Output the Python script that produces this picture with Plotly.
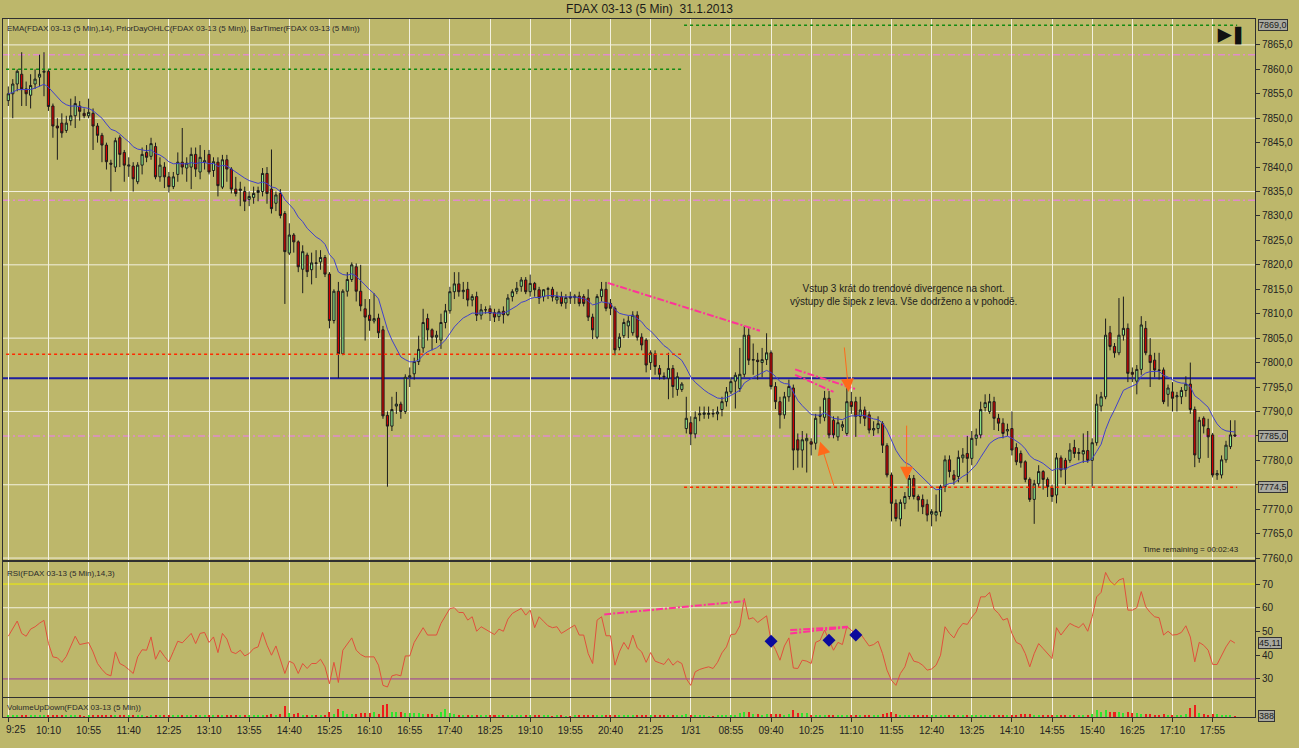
import plotly.graph_objects as go
from plotly.subplots import make_subplots

# FDAX 03-13, 5 min bars, 30.1. 9:25 .. 31.1. 18:20
opens = [
    7853.6, 7855.0, 7857.0, 7859.0, 7856.0, 7854.7, 7857.0, 7858.4, 7859.4, 7859.6,
    7852.5, 7848.4, 7849.0, 7847.5, 7849.5, 7850.5, 7852.5, 7851.0, 7850.5, 7851.0,
    7848.4, 7846.5, 7844.5, 7840.8, 7840.0, 7846.0, 7843.0, 7840.2, 7840.2, 7837.0,
    7840.4, 7843.0, 7842.2, 7844.2, 7838.0, 7840.0, 7838.0, 7836.0, 7838.5, 7841.0,
    7839.8, 7840.0, 7842.6, 7839.0, 7841.0, 7842.6, 7839.3, 7841.0, 7835.9, 7841.5,
    7839.6, 7835.5, 7835.2, 7835.0, 7833.4, 7833.8, 7834.8, 7835.0, 7838.7, 7835.5,
    7832.6, 7834.6, 7830.5, 7822.4, 7826.1, 7824.7, 7819.1, 7822.0, 7819.0, 7820.4,
    7820.6, 7821.5, 7818.1, 7808.6, 7814.6, 7801.8, 7814.6, 7817.0, 7819.6, 7814.6,
    7811.0, 7809.7, 7808.5, 7809.1, 7806.7, 7789.2, 7787.0, 7791.1, 7791.5, 7790.0,
    7797.0, 7797.7, 7800.2, 7803.0, 7809.0, 7806.7, 7805.2, 7804.6, 7808.2, 7810.6,
    7814.5, 7816.1, 7814.5, 7815.0, 7812.8, 7813.5, 7809.7, 7810.8, 7811.0, 7810.2,
    7809.4, 7810.5, 7809.8, 7813.5, 7814.6, 7815.6, 7816.9, 7814.5, 7816.2, 7814.9,
    7813.5, 7815.0, 7815.0, 7812.8, 7813.5, 7812.2, 7813.5, 7813.3, 7813.6, 7813.5,
    7813.2, 7809.3, 7805.2, 7813.5, 7815.0, 7812.1, 7811.1, 7803.1, 7805.5, 7807.5,
    7806.1, 7809.7, 7805.2, 7804.6, 7800.0, 7801.8, 7798.8, 7797.2, 7796.8, 7798.8, 7794.5, 7794.5,
    7786.5, 7787.7, 7785.4, 7789.3, 7789.4, 7789.4, 7789.6, 7789.5, 7790.4, 7792.0,
    7794.0, 7796.2, 7794.7, 7797.6, 7805.6, 7800.5, 7800.5, 7800.0, 7800.6, 7802.0,
    7795.1, 7792.0, 7789.3, 7793.0, 7794.8, 7784.2, 7782.1, 7784.0, 7783.8, 7783.5,
    7789.0, 7788.8, 7792.7, 7788.2, 7784.8, 7786.8, 7785.5, 7792.0, 7792.0, 7789.0,
    7790.3, 7789.3, 7786.2, 7786.5, 7787.5, 7783.0, 7777.0, 7771.2, 7768.0, 7771.2,
    7772.6, 7776.3, 7772.6, 7772.0, 7771.0, 7769.0, 7768.8, 7769.5, 7774.6, 7780.1,
    7777.0, 7776.7, 7780.5, 7781.4, 7780.4, 7784.5, 7785.2, 7790.8, 7790.0, 7792.0,
    7788.6, 7787.6, 7786.0, 7786.5, 7782.6, 7781.4, 7779.7, 7776.1, 7772.0, 7775.2,
    7777.7, 7776.1, 7774.3, 7772.9, 7780.5, 7780.0, 7780.0, 7782.6, 7781.4, 7781.3,
    7782.0, 7780.0, 7783.6, 7791.1, 7793.0, 7806.1, 7803.3, 7802.0, 7805.6, 7807.0,
    7798.0, 7796.2, 7798.6, 7807.0, 7801.5, 7800.5, 7798.5, 7798.5, 7793.5, 7794.0,
    7793.0, 7793.0, 7794.3, 7795.6, 7790.4, 7780.4, 7788.6, 7786.5, 7785.2, 7777.0,
    7777.0, 7780.1, 7782.8, 7785.2,
]
highs = [
    7856.5, 7858.0, 7860.0, 7863.5, 7857.5, 7859.0, 7860.0, 7863.0, 7863.5, 7860.0,
    7853.0, 7850.0, 7851.0, 7850.5, 7854.0, 7854.5, 7853.5, 7852.0, 7854.0, 7852.0,
    7849.0, 7847.0, 7845.0, 7841.5, 7846.0, 7846.5, 7843.5, 7842.0, 7841.0, 7841.0,
    7844.0, 7844.5, 7846.0, 7845.0, 7842.0, 7841.0, 7839.0, 7839.0, 7843.0, 7848.0,
    7842.0, 7844.0, 7844.0, 7844.5, 7843.5, 7843.5, 7842.0, 7842.0, 7842.5, 7842.5,
    7840.0, 7838.0, 7837.0, 7836.0, 7835.0, 7836.0, 7836.0, 7839.8, 7840.0, 7843.6,
    7835.0, 7835.5, 7831.0, 7828.5, 7826.5, 7825.0, 7824.0, 7822.5, 7822.5, 7823.0,
    7823.0, 7822.0, 7818.5, 7815.0, 7816.5, 7815.0, 7818.5, 7820.5, 7820.3, 7820.0,
    7813.0, 7813.0, 7814.2, 7810.0, 7807.5, 7790.0, 7793.0, 7794.0, 7792.0, 7797.6,
    7799.0, 7801.0, 7805.5, 7811.0, 7810.0, 7807.0, 7806.5, 7810.0, 7812.0, 7815.5,
    7818.5, 7818.5, 7816.5, 7816.5, 7814.0, 7814.5, 7812.0, 7811.5, 7811.7, 7811.0,
    7811.0, 7811.5, 7814.0, 7815.0, 7816.5, 7817.5, 7817.5, 7818.0, 7816.5, 7815.5,
    7815.0, 7815.5, 7815.5, 7814.5, 7814.5, 7814.0, 7814.5, 7814.0, 7814.5, 7814.0,
    7815.0, 7810.0, 7814.0, 7816.5, 7816.5, 7813.0, 7811.5, 7806.0, 7809.0, 7809.5,
    7810.5, 7810.5, 7806.0, 7805.0, 7802.5, 7802.5, 7799.5, 7798.0, 7802.0, 7799.5, 7798.0, 7796.0,
    7793.0, 7789.0, 7790.0, 7791.0, 7791.0, 7791.0, 7790.5, 7791.0, 7793.0, 7795.0,
    7797.0, 7798.0, 7803.0, 7807.5, 7807.0, 7803.9, 7802.0, 7803.0, 7806.0, 7802.5,
    7796.0, 7793.0, 7794.0, 7796.5, 7795.5, 7785.5, 7786.0, 7785.5, 7784.5, 7789.5,
    7791.0, 7794.2, 7794.2, 7789.0, 7789.0, 7788.0, 7795.0, 7794.0, 7793.0, 7793.0,
    7791.0, 7790.0, 7788.0, 7789.0, 7788.0, 7783.5, 7777.5, 7772.0, 7772.0, 7773.5,
    7777.0, 7777.0, 7773.0, 7773.0, 7772.0, 7770.0, 7773.0, 7775.0, 7781.0, 7781.0,
    7778.0, 7782.0, 7782.5, 7785.0, 7786.0, 7786.5, 7792.0, 7793.5, 7793.6, 7793.0,
    7789.5, 7788.6, 7787.5, 7790.0, 7783.5, 7782.0, 7780.0, 7776.5, 7776.0, 7779.0,
    7778.0, 7776.5, 7775.0, 7781.5, 7781.0, 7780.5, 7783.5, 7784.2, 7782.5, 7785.5,
    7786.0, 7784.5, 7793.5, 7794.0, 7809.0, 7807.5, 7804.0, 7813.2, 7813.5, 7808.0,
    7799.0, 7799.5, 7809.5, 7808.5, 7805.0, 7802.0, 7802.0, 7799.0, 7795.5, 7796.0,
    7794.0, 7795.0, 7797.2, 7800.0, 7791.0, 7788.9, 7789.0, 7788.5, 7785.6, 7778.0,
    7781.0, 7784.0, 7788.2, 7788.2,
]
lows = [
    7852.5, 7850.0, 7855.5, 7852.5, 7852.5, 7852.0, 7856.0, 7856.5, 7854.5, 7851.5,
    7846.0, 7841.5, 7846.0, 7847.0, 7848.5, 7848.0, 7849.5, 7850.0, 7850.0, 7843.5,
    7845.0, 7841.0, 7839.5, 7835.0, 7839.0, 7840.0, 7837.0, 7838.0, 7835.0, 7836.5,
    7838.5, 7841.0, 7841.5, 7837.5, 7837.0, 7835.7, 7834.8, 7835.5, 7837.0, 7838.5,
    7837.0, 7835.5, 7838.0, 7837.5, 7839.5, 7838.5, 7838.0, 7834.0, 7835.5, 7837.0,
    7834.6, 7834.0, 7832.0, 7831.0, 7832.0, 7832.5, 7833.0, 7834.0, 7832.5, 7830.5,
    7831.0, 7829.5, 7812.0, 7822.0, 7822.5, 7818.5, 7814.2, 7817.5, 7816.0, 7817.3,
    7819.0, 7817.5, 7807.0, 7808.0, 7796.8, 7801.5, 7813.5, 7816.5, 7812.5, 7810.5,
    7804.5, 7806.5, 7808.0, 7805.0, 7788.5, 7774.6, 7786.0, 7789.5, 7788.5, 7789.5,
    7795.0, 7796.5, 7799.5, 7802.0, 7804.5, 7802.5, 7804.0, 7802.8, 7807.0, 7810.0,
    7813.0, 7813.5, 7813.0, 7811.5, 7811.5, 7808.5, 7808.8, 7810.0, 7808.5, 7808.3,
    7808.5, 7808.0, 7809.5, 7812.5, 7814.0, 7814.5, 7814.0, 7813.5, 7813.5, 7812.0,
    7812.5, 7813.0, 7812.5, 7812.0, 7811.5, 7811.0, 7812.0, 7812.0, 7811.5, 7811.5,
    7808.5, 7804.8, 7804.8, 7812.5, 7810.5, 7809.7, 7801.5, 7802.5, 7805.0, 7805.0,
    7805.5, 7804.5, 7802.5, 7798.0, 7798.5, 7797.5, 7796.5, 7796.5, 7792.5, 7792.8, 7793.2, 7794.0,
    7785.5, 7783.1, 7784.5, 7788.0, 7788.5, 7788.5, 7788.8, 7788.2, 7789.0, 7791.0,
    7793.5, 7790.6, 7794.0, 7797.0, 7799.5, 7797.5, 7796.5, 7797.0, 7799.5, 7794.5,
    7790.5, 7786.5, 7788.5, 7792.0, 7778.0, 7778.5, 7778.5, 7777.5, 7781.0, 7782.2,
    7787.5, 7788.0, 7784.5, 7784.5, 7784.0, 7786.0, 7785.0, 7789.5, 7784.8, 7787.5,
    7787.0, 7785.5, 7785.0, 7785.5, 7781.5, 7776.5, 7767.5, 7767.5, 7766.5, 7770.0,
    7772.0, 7772.0, 7769.5, 7769.0, 7767.5, 7766.5, 7767.5, 7768.5, 7773.5, 7776.5,
    7775.0, 7775.5, 7779.5, 7775.5, 7779.0, 7783.0, 7784.5, 7790.0, 7789.5, 7786.2,
    7786.0, 7784.5, 7785.0, 7781.0, 7779.0, 7778.5, 7775.5, 7771.5, 7767.0, 7774.5,
    7774.0, 7772.5, 7771.5, 7771.2, 7776.5, 7775.0, 7779.5, 7780.5, 7780.0, 7779.5,
    7779.5, 7774.6, 7783.0, 7790.0, 7792.5, 7802.5, 7801.0, 7801.5, 7804.5, 7796.0,
    7796.0, 7793.5, 7797.5, 7801.5, 7795.0, 7797.0, 7796.5, 7791.5, 7791.0, 7790.0,
    7790.0, 7791.5, 7793.0, 7789.5, 7778.6, 7779.5, 7785.5, 7780.5, 7776.5, 7776.0,
    7776.3, 7779.5, 7782.3, 7784.8,
]
closes = [
    7855.0, 7857.0, 7859.6, 7856.0, 7855.0, 7856.7, 7858.0, 7859.0, 7859.6, 7852.4,
    7848.4, 7848.0, 7847.0, 7849.0, 7850.5, 7853.0, 7851.4, 7850.5, 7851.2, 7848.4,
    7846.5, 7844.5, 7841.1, 7840.6, 7845.4, 7842.6, 7840.4, 7840.4, 7837.6, 7840.4,
    7842.6, 7842.0, 7844.8, 7838.0, 7840.4, 7838.0, 7836.0, 7838.0, 7841.0, 7840.0,
    7840.8, 7842.6, 7839.6, 7842.0, 7841.3, 7839.0, 7841.1, 7836.2, 7841.5, 7839.6,
    7835.5, 7834.6, 7835.5, 7833.0, 7834.0, 7834.6, 7835.2, 7838.7, 7834.6, 7831.5,
    7834.3, 7830.1, 7822.7, 7826.1, 7824.7, 7819.6, 7822.7, 7818.6, 7820.4, 7820.3,
    7821.5, 7818.1, 7808.6, 7814.6, 7801.8, 7814.6, 7817.0, 7820.0, 7814.6, 7811.6,
    7809.3, 7808.6, 7809.0, 7806.1, 7789.1, 7787.0, 7790.4, 7791.5, 7790.0, 7797.0,
    7797.3, 7800.2, 7802.7, 7808.2, 7806.7, 7805.2, 7805.6, 7808.2, 7810.6, 7814.5,
    7816.1, 7814.5, 7814.8, 7812.8, 7813.5, 7809.7, 7810.8, 7810.8, 7810.1, 7809.3,
    7810.4, 7809.8, 7813.2, 7814.5, 7815.2, 7816.9, 7814.5, 7816.2, 7814.9, 7813.2,
    7814.9, 7815.1, 7813.4, 7813.5, 7812.1, 7813.3, 7813.2, 7813.6, 7812.1, 7812.1,
    7809.3, 7806.7, 7813.5, 7815.0, 7811.1, 7811.1, 7802.6, 7805.2, 7808.2, 7808.5,
    7809.7, 7805.2, 7803.6, 7799.5, 7802.0, 7799.2, 7797.6, 7797.1, 7798.8, 7795.1, 7797.1, 7795.6,
    7788.6, 7785.4, 7788.8, 7789.5, 7789.7, 7789.6, 7789.5, 7789.9, 7792.0, 7794.0,
    7796.1, 7797.4, 7797.6, 7805.6, 7800.5, 7800.6, 7800.2, 7800.6, 7802.0, 7795.1,
    7792.0, 7789.3, 7793.0, 7795.1, 7782.1, 7782.1, 7784.2, 7784.5, 7783.3, 7788.6,
    7789.2, 7792.7, 7785.2, 7785.2, 7787.7, 7787.3, 7792.0, 7791.0, 7789.0, 7790.3,
    7788.6, 7786.2, 7786.5, 7787.5, 7783.1, 7777.0, 7771.2, 7768.1, 7771.4, 7772.6,
    7776.3, 7772.6, 7771.9, 7770.5, 7768.8, 7769.5, 7769.5, 7774.6, 7780.1, 7777.7,
    7776.0, 7780.6, 7781.1, 7780.4, 7784.5, 7785.2, 7790.4, 7791.8, 7792.0, 7788.6,
    7787.6, 7785.5, 7786.3, 7782.1, 7779.7, 7779.5, 7776.1, 7772.0, 7775.2, 7777.7,
    7776.1, 7774.6, 7772.6, 7780.5, 7778.0, 7778.2, 7782.1, 7781.4, 7781.6, 7782.0,
    7780.0, 7783.6, 7791.5, 7793.0, 7805.6, 7803.3, 7802.0, 7805.6, 7807.0, 7797.8,
    7797.6, 7798.6, 7807.7, 7802.0, 7800.0, 7798.5, 7798.4, 7792.0, 7794.8, 7792.7,
    7793.2, 7794.3, 7795.6, 7790.4, 7781.1, 7788.2, 7787.0, 7784.8, 7777.0, 7777.3,
    7780.1, 7783.1, 7785.2, 7785.0,
]
volumes = [
    600, 500, 450, 700, 400, 500, 450, 600, 700, 900, 800, 600, 500, 450, 400, 500, 450, 350, 400, 600,
    700, 650, 800, 900, 700, 600, 650, 400, 700, 500, 450, 380, 600, 800, 550, 500, 600, 450, 500, 700,
    500, 600, 550, 450, 500, 500, 700, 900, 600, 800, 700, 600, 500, 450, 400, 450, 500, 600, 550, 1100,
    900, 1200, 4400, 1400, 1200, 1500, 900, 700, 800, 600, 700, 900, 2000, 1300, 3200, 2400, 1200, 1200, 1100, 1600,
    1600, 1400, 2000, 1200, 4800, 5200, 2000, 2000, 1800, 1600, 1600, 1500, 1600, 1200, 1100, 1200, 800, 2000, 3200, 1600,
    1000, 800, 700, 600, 700, 800, 600, 500, 450, 500, 400, 450, 600, 500, 450, 500, 400, 450, 500, 400,
    450, 400, 350, 450, 400, 350, 380, 420, 400, 450, 500, 900, 800, 600, 500, 450, 900, 500, 450, 400,
    450, 500, 400, 450, 600, 400, 450, 400, 500, 550, 450, 400,
    1200, 700, 600, 500, 400, 350, 300, 400, 500, 600, 700, 900, 1600, 2000, 1800, 1200, 1000, 900, 1000, 1200,
    1300, 1000, 900, 1100, 2800, 1400, 1600, 1500, 900, 800, 800, 850, 800, 700, 600, 500, 600, 700, 800, 600,
    500, 700, 800, 900, 1200, 1600, 1800, 1200, 700, 600, 500, 500, 450, 500, 600, 700, 800, 800, 900, 700,
    600, 500, 600, 550, 500, 800, 800, 900, 700, 800, 800, 600, 500, 500, 600, 1000, 1200, 1100, 800, 600,
    500, 600, 800, 800, 600, 600, 500, 600, 700, 800, 900, 1200, 2800, 2000, 2800, 2000, 1800, 2000, 1400, 2000,
    1400, 1600, 1100, 1200, 1200, 900, 800, 1200, 900, 800, 700, 900, 1200, 3600, 4800, 1600, 1200, 900, 1200, 1000,
    700, 800, 700, 388,
]
# RSI(14,3)
rsi = [
    48.0, 51.5, 54.4, 49.2, 48.0, 51.0, 52.0, 53.5, 54.7, 45.0,
    39.3, 38.9, 37.0, 39.5, 44.0, 48.0, 44.5, 45.0, 45.3, 41.4,
    36.5, 34.0, 32.0, 31.3, 41.4, 36.5, 35.5, 34.0, 32.3, 39.3,
    42.3, 42.1, 47.7, 38.3, 42.1, 39.5, 37.2, 41.5, 45.9, 45.2,
    47.0, 49.2, 44.9, 49.2, 49.6, 45.4, 47.7, 41.1, 49.2, 46.8,
    41.4, 40.7, 42.1, 39.7, 40.7, 42.8, 43.5, 49.6, 44.2, 40.0,
    43.9, 38.0, 32.3, 37.5, 36.5, 32.3, 36.5, 34.4, 36.5, 36.5,
    38.3, 35.1, 28.0, 37.0, 28.5, 42.1, 44.9, 47.3, 42.1, 40.3,
    39.3, 39.3, 39.3, 35.8, 27.3, 26.6, 31.3, 31.8, 31.3, 39.7,
    39.7, 45.4, 48.5, 51.6, 48.5, 48.5, 48.5, 53.4, 56.5, 59.7,
    60.0, 58.0, 58.0, 54.8, 56.2, 50.1, 52.0, 51.0, 49.8, 48.7,
    51.0, 50.1, 55.2, 57.6, 58.7, 59.7, 56.9, 59.0, 51.6, 56.2,
    54.3, 52.4, 51.6, 52.0, 49.2, 50.3, 51.3, 52.7, 48.5, 48.5,
    40.7, 36.5, 54.8, 56.2, 48.2, 48.2, 35.8, 41.4, 45.4, 42.5,
    48.5, 43.1, 41.4, 37.0, 41.1, 37.5, 36.8, 36.1, 38.6, 35.8,
    37.5, 36.5, 30.1, 27.3, 33.0, 34.0, 34.6, 35.1, 34.4, 37.0,
    41.0, 43.5, 48.7, 48.9, 52.4, 63.9, 55.2, 55.8, 53.8, 55.2,
    56.6, 45.9, 42.4, 37.9, 43.9, 47.3, 34.6, 34.4, 37.9, 37.5,
    36.5, 45.4, 46.3, 50.6, 46.3, 42.1, 45.4, 44.5, 52.0, 50.6,
    48.5, 49.2, 46.5, 43.9, 44.5, 45.9, 40.7, 33.7, 29.4, 27.3,
    32.3, 35.1, 41.1, 37.5, 37.0, 35.8, 33.7, 34.2, 35.8, 40.0,
    52.0, 49.2, 47.3, 51.0, 53.4, 53.0, 56.0, 58.3, 64.6, 64.6,
    66.5, 59.4, 57.6, 54.8, 55.5, 49.2, 45.4, 44.5, 40.7, 35.1,
    40.7, 44.9, 42.8, 40.7, 38.6, 51.6, 48.5, 51.0, 53.4, 52.4,
    51.6, 53.4, 50.1, 56.2, 64.6, 66.5, 74.9, 71.3, 69.6, 71.7,
    72.4, 59.0, 59.0, 60.0, 66.8, 60.4, 58.0, 56.2, 55.8, 48.5,
    50.1, 48.5, 48.7, 49.6, 52.4, 47.7, 37.2, 45.4, 44.2, 42.1,
    36.1, 36.1, 40.0, 43.5, 46.3, 45.11,
]
assert len(opens) == len(highs) == len(lows) == len(closes) == len(volumes) == len(rsi) == 276

tick_labels = ["9:25", "10:10", "10:55", "11:40", "12:25", "13:10", "13:55", "14:40", "15:25",
               "16:10", "16:55", "17:40", "18:25", "19:10", "19:55", "20:40", "21:25", "1/31",
               "08:55", "09:40", "10:25", "11:10", "11:55", "12:40", "13:25", "14:10", "14:55",
               "15:40", "16:25", "17:10", "17:55"]
bars_per_tick = 9

# PriorDayOHLC per session (first bar, last bar)
day_first = [0, 152]
day_last = [151, 275]
prior_high = [7860.0, 7869.0]
prior_low = [7801.7, 7774.5]

pink_levels = [7863.0, 7833.2, 7785.0]
blue_levels = [7796.8]
rsi_levels = [70, 30]

# hand drawn lines (bar, price, bar, price)
price_lines = [(134.4, 7816.3, 168.5, 7806.5), (176.4, 7798.6, 190.2, 7794.5), (176.4, 7797.5, 185.0, 7794.0)]
rsi_lines = [(133.6, 57.2, 165.1, 62.8), (175.3, 50.6, 188.2, 52.0), (175.3, 49.2, 188.2, 51.8)]
rsi_marks = [171, 184, 190]
# arrows (tail bar, tail price, head bar, head price)
arrows = [(187.4, 7803.4, 188.4, 7794.0), (185.2, 7774.5, 182.0, 7783.8), (201.4, 7787.4, 201.4, 7776.0)]
note = "Vstup 3 krát do trendové divergence na short.<br>výstupy dle šipek z leva. Vše dodrženo a v pohodě."

BG = "#BDB76B"
GRID = "#F3F1DE"
FONT = "Liberation Sans, Arial, sans-serif"


def comma(v, d=1):
    return f"{v:.{d}f}".replace(".", ",")


# EMA(14) of the closes
ema = []
k = 2 / (14 + 1)
for c in closes:
    ema.append(c if not ema else ema[-1] + k * (c - ema[-1]))

x = list(range(len(closes)))
fig = make_subplots(rows=3, cols=1, shared_xaxes=True, vertical_spacing=0)

fig.add_trace(go.Candlestick(
    x=x, open=opens, high=highs, low=lows, close=closes,
    increasing=dict(fillcolor="#90EE90", line=dict(color="#1c1c1c", width=1)),
    decreasing=dict(fillcolor="#D60000", line=dict(color="#1c1c1c", width=1)),
    whiskerwidth=0, hoverinfo="skip"), row=1, col=1)
fig.add_trace(go.Scatter(x=x, y=ema, mode="lines", line=dict(color="#4040CC", width=1)), row=1, col=1)

for a, b, h, l in zip(day_first, day_last, prior_high, prior_low):
    fig.add_trace(go.Scatter(x=[a - 0.5, b + 0.5], y=[h, h], mode="lines",
                             line=dict(color="#138A13", width=1.5, dash="dot")), row=1, col=1)
    fig.add_trace(go.Scatter(x=[a - 0.5, b + 0.5], y=[l, l], mode="lines",
                             line=dict(color="#FF2A00", width=1.5, dash="dot")), row=1, col=1)

for x0, y0, x1, y1 in price_lines:
    fig.add_trace(go.Scatter(x=[x0, x1], y=[y0, y1], mode="lines",
                             line=dict(color="#FF3399", width=2, dash="7px,2px,2px,2px")), row=1, col=1)

fig.add_trace(go.Scatter(x=x, y=rsi, mode="lines", line=dict(color="#E0503C", width=1)), row=2, col=1)
for x0, y0, x1, y1 in rsi_lines:
    fig.add_trace(go.Scatter(x=[x0, x1], y=[y0, y1], mode="lines",
                             line=dict(color="#FF3399", width=2, dash="7px,2px,2px,2px")), row=2, col=1)
fig.add_trace(go.Scatter(x=rsi_marks, y=[rsi[i] for i in rsi_marks], mode="markers",
                         marker=dict(symbol="diamond", size=10, color="#0A0A9C")), row=2, col=1)

vol_colors = ["#2EE62E" if c >= o else "#EE1C1C" for o, c in zip(opens, closes)]
fig.add_trace(go.Bar(x=x, y=volumes, marker=dict(color=vol_colors, line=dict(width=0)), width=0.45),
              row=3, col=1)

shapes = []
for v in range(7760, 7870, 15):
    shapes.append(dict(type="line", xref="x domain", x0=0, x1=1, yref="y", y0=v, y1=v,
                       line=dict(color=GRID, width=1), layer="below"))
for v in pink_levels:
    shapes.append(dict(type="line", xref="x domain", x0=0, x1=1, yref="y", y0=v, y1=v,
                       line=dict(color="#E08CCB", width=1.5, dash="7px,3px,2px,3px"), layer="below"))
for v in blue_levels:
    shapes.append(dict(type="line", xref="x domain", x0=0, x1=1, yref="y", y0=v, y1=v,
                       line=dict(color="#1E1EA0", width=2), layer="below"))
shapes.append(dict(type="line", xref="x2 domain", x0=0, x1=1, yref="y2", y0=60, y1=60,
                   line=dict(color=GRID, width=1), layer="below"))
for v, col in zip(rsi_levels, ["#F0F000", "#9C3C9C"]):
    shapes.append(dict(type="line", xref="x2 domain", x0=0, x1=1, yref="y2", y0=v, y1=v,
                       line=dict(color=col, width=1), layer="below"))

ann = []
ann.append(dict(text="EMA(FDAX 03-13 (5 Min),14), PriorDayOHLC(FDAX 03-13 (5 Min)), BarTimer(FDAX 03-13 (5 Min))",
                xref="paper", x=0, xanchor="left", xshift=2, yref="y domain", y=1, yanchor="top", yshift=-3,
                showarrow=False, font=dict(size=8, color="#2a2a2a")))
ann.append(dict(text="RSI(FDAX 03-13 (5 Min),14,3)", xref="paper", x=0, xanchor="left", xshift=2,
                yref="y2 domain", y=1, yanchor="top", yshift=-5, showarrow=False,
                font=dict(size=8, color="#2a2a2a")))
ann.append(dict(text="VolumeUpDown(FDAX 03-13 (5 Min))", xref="paper", x=0, xanchor="left", xshift=2,
                yref="y3 domain", y=0.5, yanchor="middle", showarrow=False,
                font=dict(size=8, color="#2a2a2a")))
ann.append(dict(text=note, xref="x", x=200.6, yref="y", y=7813.9, showarrow=False, align="center",
                font=dict(size=10, color="#1e1e1e")))
ann.append(dict(text="Time remaining = 00:02:43", xref="paper", x=1, xanchor="right", xshift=-14,
                yref="y domain", y=0, yanchor="bottom", yshift=4, showarrow=False,
                font=dict(size=8, color="#1e1e1e")))
ann.append(dict(text="<b>▶❚</b>", xref="paper", x=1, xanchor="right", xshift=-8, yref="y domain", y=1,
                yanchor="top", yshift=-4, showarrow=False, font=dict(size=17, color="#111")))
# the first time label is pushed clear of the left edge, like the platform does
ann.append(dict(text=tick_labels[0], xref="x3", x=0, xanchor="left", xshift=-4, yref="y3 domain", y=0,
                yanchor="top", yshift=-5, showarrow=False, font=dict(size=10, color="#222")))
for tx, ty, hx, hy in arrows:
    ann.append(dict(text="", x=hx, y=hy, ax=tx, ay=ty, xref="x", yref="y", axref="x", ayref="y",
                    showarrow=True, arrowhead=2, arrowsize=2.6, arrowwidth=1, arrowcolor="#FF6A1A"))

# value markers on the right axis
boxes = [("y", prior_high[-1], comma(prior_high[-1])), ("y", closes[-1], comma(closes[-1])),
         ("y", prior_low[-1], comma(prior_low[-1])), ("y2", rsi[-1], comma(rsi[-1], 2)),
         ("y3", volumes[-1], str(volumes[-1]))]
for yref, v, t in boxes:
    ann.append(dict(text=t, xref="paper", x=1, xanchor="left", xshift=3, yref=yref, y=v, yanchor="middle",
                    showarrow=False, bgcolor="#A9A9A0", bordercolor="#333", borderwidth=1, borderpad=0,
                    font=dict(size=9, color="#1a1a1a")))

# price tick labels that sit under a value marker are hidden, as in the chart
price_ticks = list(range(7760, 7866, 5))
marked = [closes[-1], prior_low[-1]]
price_text = ["" if any(abs(t - m) < 3 for m in marked) else comma(t) for t in price_ticks]

fig.update_layout(
    width=1299, height=748, margin=dict(l=3, r=44, t=19, b=31, autoexpand=False),
    paper_bgcolor=BG, plot_bgcolor=BG, showlegend=False, separators=", ",
    font=dict(family=FONT, size=10, color="#222"),
    title=dict(text="FDAX 03-13 (5 Min)\u00a0\u00a031.1.2013", x=0.5, xanchor="center", y=0.988,
               yanchor="middle", font=dict(size=12, color="#1a1a1a")),
    shapes=shapes, annotations=ann, bargap=0,
)

tickvals = [i * bars_per_tick for i in range(len(tick_labels))]
ticktext = [""] + tick_labels[1:]
for n in (1, 2, 3):
    fig.update_xaxes(range=[-1.19, 279.5], tickvals=tickvals, ticktext=ticktext, showgrid=True,
                     gridcolor=GRID, gridwidth=1, showline=True, linecolor="#303030", mirror=True,
                     zeroline=False, automargin=False, row=n, col=1)
fig.update_xaxes(rangeslider_visible=False, row=1, col=1)
fig.update_xaxes(ticks="outside", ticklen=4, tickcolor="#303030", tickfont=dict(size=10),
                 showticklabels=True, row=3, col=1)

fig.update_yaxes(domain=[0.2249, 1], range=[7759.6, 7870.3], side="right",
                 tickvals=price_ticks, ticktext=price_text, ticks="outside", ticklen=4,
                 tickcolor="#303030", tickfont=dict(size=10), showgrid=False, zeroline=False,
                 showline=True, linecolor="#303030", mirror=True, automargin=False, row=1, col=1)
fig.update_yaxes(domain=[0.0287, 0.2221], range=[22.4, 79.3], side="right",
                 tickvals=[30, 40, 50, 60, 70], ticks="outside", ticklen=4, tickcolor="#303030",
                 tickfont=dict(size=10), showgrid=False, zeroline=False, showline=True,
                 linecolor="#303030", mirror=True, automargin=False, row=2, col=1)
fig.update_yaxes(domain=[0, 0.0272], range=[0, 7500], side="right", showticklabels=False,
                 showgrid=False, zeroline=False, showline=True, linecolor="#303030", mirror=True,
                 automargin=False, row=3, col=1)

fig.write_html("out.html", config={"displayModeBar": False},
               post_script="document.body.style.margin='0';")
